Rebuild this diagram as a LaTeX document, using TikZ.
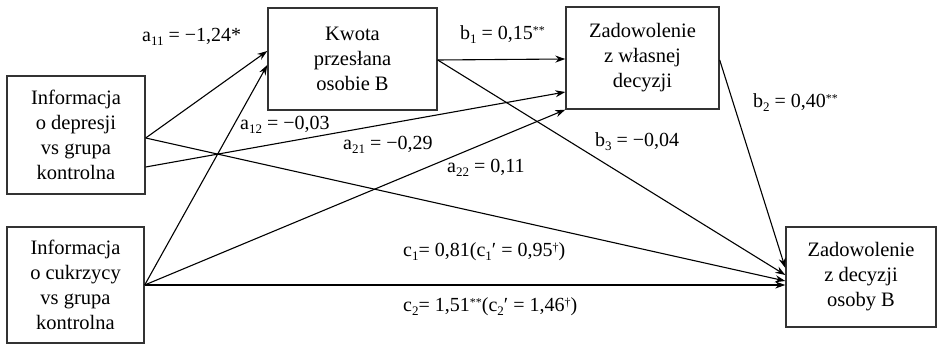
\documentclass[tikz,border=0pt]{standalone}
\usepackage{fontspec}
\setmainfont{Liberation Serif}
\usetikzlibrary{arrows.meta}
\newcommand{\lsub}[1]{\raisebox{-4pt}{\fontsize{13}{13}\selectfont #1}}
\newcommand{\lsup}[1]{\raisebox{5pt}{\fontsize{12}{12}\selectfont #1}}
\begin{document}
\begin{tikzpicture}[x=1pt,y=-1pt,
  box/.style={draw=black!80, line width=1.4pt, inner sep=0pt, align=center,
    font=\fontsize{20.5}{25}\selectfont},
  lab/.style={anchor=base west, inner sep=0pt, font=\fontsize{20}{24}\selectfont},
  arr/.style={line width=1.1pt, -{Stealth[length=10pt,width=7pt]}},
  ln/.style={line width=1.1pt}
]
\useasboundingbox (0,0) rectangle (937,344);
\fill[white] (0,0) rectangle (937,344);
% boxes
\node[box, minimum width=169pt, minimum height=102pt] (kw) at (352.5,59) {Kwota\\przesłana\\osobie B};
\node[box, minimum width=153pt, minimum height=102pt] (zw) at (642.5,58) {Zadowolenie\\z własnej\\decyzji};
\node[box, minimum width=138pt, minimum height=118pt] (dep) at (76,135) {Informacja\\o depresji\\vs grupa\\kontrolna};
\node[box, minimum width=137pt, minimum height=116pt] (cuk) at (75.5,285) {Informacja\\o cukrzycy\\vs grupa\\kontrolna};
\node[box, minimum width=150pt, minimum height=100pt] (ob) at (861,277) {Zadowolenie\\z decyzji\\osoby B};
% connectors
\draw[arr] ([yshift=-3pt]dep.east) -- ([yshift=8pt]kw.west);
\draw[arr] (cuk.east) -- ([yshift=-6pt]kw.west);
\draw[arr] ([yshift=-32pt]dep.east) -- ([yshift=-34pt]zw.west);
\draw[arr] (cuk.east) -- (zw.south west);
\draw[arr] ([yshift=-1pt]kw.east) -- ([yshift=-1pt]zw.west);
\draw[arr] ([yshift=-1pt]kw.east) -- ([yshift=2pt]ob.west);
\draw[arr] ([yshift=-2pt]zw.east) -- ([yshift=9pt]ob.west);
\draw[arr] ([yshift=-3pt]dep.east) -- ([yshift=-4pt]ob.west);
\draw[arr] (cuk.east) -- (cuk.east -| ob.west);
% labels
\node[lab] (la11) at (142,42) {a\lsub{11} = −1,24*};
\node[lab] (lb1) at (460,40) {b\lsub{1} = 0,15\lsup{**}};
\node[lab] (la12) at (240,130) {a\lsub{12} = −0,03};
\node[lab] (la21) at (343,150) {a\lsub{21} = −0,29};
\node[lab] (la22) at (447,173) {a\lsub{22} = 0,11};
\node[lab] (lb3) at (595,147) {b\lsub{3} = −0,04};
\node[lab] (lb2) at (753,108) {b\lsub{2} = 0,40\lsup{**}};
\node[lab] (lc1) at (403,257) {c\lsub{1}= 0,81(c\lsub{1}′ = 0,95\lsup{†})};
\node[lab] (lc2) at (403,312) {c\lsub{2}= 1,51\lsup{**}(c\lsub{2}′ = 1,46\lsup{†})};
\end{tikzpicture}
\end{document}
